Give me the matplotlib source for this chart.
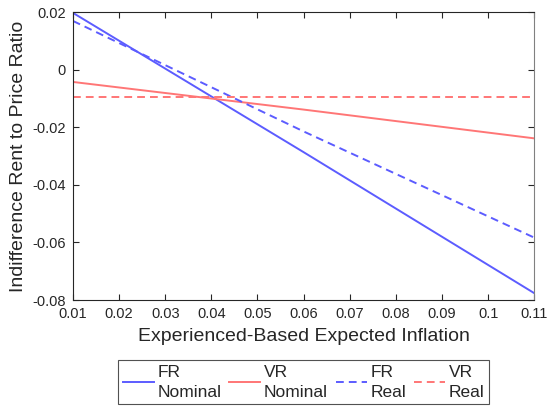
import matplotlib
matplotlib.use("Agg")
import matplotlib.pyplot as plt
import numpy as np

plt.rcParams['font.family'] = ['Liberation Sans', 'DejaVu Sans']

# expected inflation grid and indifference rent-to-price ratios
x = [0.01, 0.06, 0.11]
fr_nominal = [0.0198, -0.0286, -0.0776]
vr_nominal = [-0.0042, -0.0138, -0.0238]
fr_real = [0.0170, -0.0214, -0.0583]
vr_real = [-0.0096, -0.0096, -0.0096]

xticks = [0.01, 0.02, 0.03, 0.04, 0.05, 0.06, 0.07, 0.08, 0.09, 0.1, 0.11]
yticks = [-0.08, -0.06, -0.04, -0.02, 0, 0.02]

blue = '#5c5cff'
red = '#ff7676'
ink = '#262626'

fig = plt.figure(figsize=(5.53, 4.11), dpi=100)
ax = fig.add_axes([0.132, 0.270, 0.834, 0.700])

ax.plot(x, fr_nominal, color=blue, lw=1.4, label='FR\nNominal')
ax.plot(x, vr_nominal, color=red, lw=1.4, label='VR\nNominal')
ax.plot(x, fr_real, color=blue, lw=1.4, ls=(0, (4, 2.6)), label='FR\nReal')
ax.plot(x, vr_real, color=red, lw=1.4, ls=(0, (4, 2.6)), label='VR\nReal')

ax.set_xlim(0.01, 0.11)
ax.set_ylim(-0.08, 0.02)
ax.set_xticks(xticks)
ax.set_xticklabels(['0.01', '0.02', '0.03', '0.04', '0.05', '0.06', '0.07',
                    '0.08', '0.09', '0.1', '0.11'])
ax.set_yticks(yticks)
ax.set_yticklabels(['-0.08', '-0.06', '-0.04', '-0.02', '0', '0.02'])
ax.tick_params(direction='in', top=True, right=True, length=4, width=0.8,
               labelsize=10.5, colors=ink, pad=5)
for s in ax.spines.values():
    s.set_linewidth(0.8)
    s.set_color(ink)
ax.spines['right'].set_color('#808080')

ax.set_xlabel('Experienced-Based Expected Inflation', fontsize=14, color=ink, labelpad=5)
ax.set_ylabel('Indifference Rent to Price Ratio', fontsize=14, color=ink, labelpad=4)

leg = ax.legend(loc='upper center', bbox_to_anchor=(0.5, -0.21), ncol=4,
                frameon=True, fancybox=False, edgecolor=ink, fontsize=12.5,
                handlelength=1.8, handletextpad=0.2, columnspacing=0.45,
                borderpad=0.25, borderaxespad=0, labelspacing=0.3)
leg.get_frame().set_linewidth(0.8)
for t in leg.get_texts():
    t.set_multialignment('left')
    t.set_color(ink)
    t.set_linespacing(1.4)

fig.savefig('out.png', dpi=100)
